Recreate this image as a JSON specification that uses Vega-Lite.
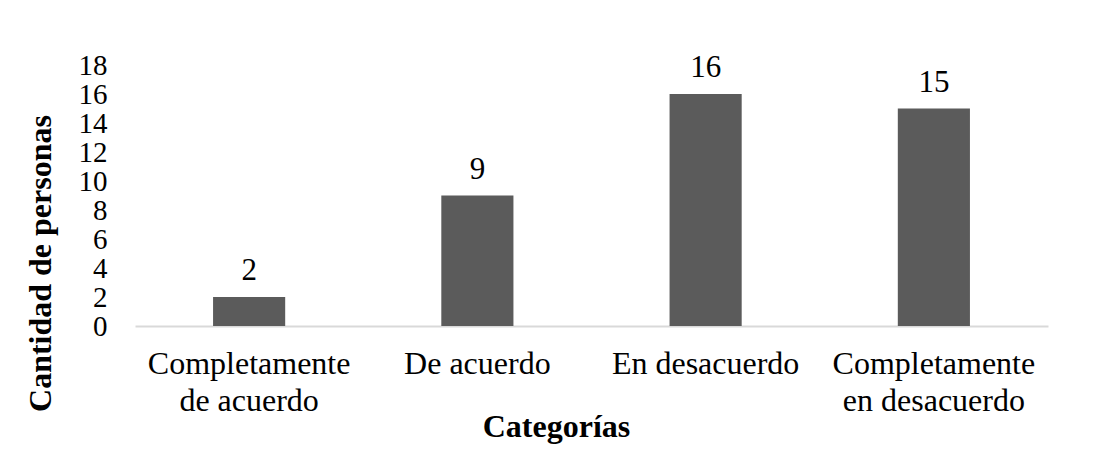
{
  "$schema": "https://vega.github.io/schema/vega-lite/v6.json",
  "width": 913,
  "height": 261,
  "autosize": {"type": "none"},
  "padding": {"left": 135, "top": 65, "right": 46, "bottom": 149},
  "background": "white",
  "config": {
    "view": {"stroke": null},
    "font": "Liberation Serif",
    "axis": {"labelFont": "Liberation Serif", "titleFont": "Liberation Serif", "labelColor": "#000000", "titleColor": "#000000", "grid": false, "ticks": false}
  },
  "data": {
    "values": [
      {"categoria": "Completamente de acuerdo", "cantidad": 2},
      {"categoria": "De acuerdo", "cantidad": 9},
      {"categoria": "En desacuerdo", "cantidad": 16},
      {"categoria": "Completamente en desacuerdo", "cantidad": 15}
    ]
  },
  "encoding": {
    "x": {
      "field": "categoria",
      "type": "nominal",
      "sort": null,
      "scale": {"paddingInner": 0.684, "paddingOuter": 0.342},
      "axis": {
        "title": "Categorías",
        "labelAngle": 0,
        "labelFontSize": 32,
        "labelLineHeight": 37,
        "labelPadding": 22,
        "labelLimit": 400,
        "labelOverlap": false,
        "labelExpr": "indexof(datum.label, 'Completamente ') == 0 ? ['Completamente', substring(datum.label, 14)] : datum.label",
        "domain": true,
        "domainColor": "#d9d9d9",
        "domainWidth": 2,
        "titleFontSize": 32,
        "titleFontWeight": "bold",
        "titleX": 421,
        "titleY": 100,
        "titleAlign": "center",
        "titleBaseline": "middle"
      }
    },
    "y": {
      "field": "cantidad",
      "type": "quantitative",
      "scale": {"domain": [0, 18], "nice": false},
      "axis": {
        "title": "Cantidad de personas",
        "values": [0, 2, 4, 6, 8, 10, 12, 14, 16, 18],
        "domain": false,
        "labelOverlap": false,
        "labelFontSize": 29,
        "labelPadding": 28,
        "titleFontSize": 32,
        "titleFontWeight": "bold",
        "titleAngle": -90,
        "titleX": -95,
        "titleY": 198,
        "titleAlign": "center",
        "titleBaseline": "middle"
      }
    }
  },
  "layer": [
    {"mark": {"type": "bar", "color": "#5B5B5B"}},
    {
      "mark": {"type": "text", "fontSize": 31, "baseline": "alphabetic", "dy": -17, "color": "#000000", "font": "Liberation Serif"},
      "encoding": {"text": {"field": "cantidad", "type": "quantitative"}}
    }
  ]
}
